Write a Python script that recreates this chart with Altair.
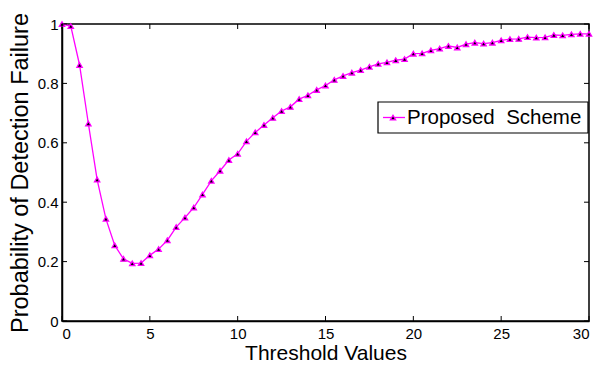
import altair as alt
import pandas as pd

x_vals = [0, 0.5, 1, 1.5, 2, 2.5, 3, 3.5, 4, 4.5, 5, 5.5, 6, 6.5, 7, 7.5, 8, 8.5, 9, 9.5,
          10, 10.5, 11, 11.5, 12, 12.5, 13, 13.5, 14, 14.5, 15, 15.5, 16, 16.5, 17, 17.5,
          18, 18.5, 19, 19.5, 20, 20.5, 21, 21.5, 22, 22.5, 23, 23.5, 24, 24.5, 25, 25.5,
          26, 26.5, 27, 27.5, 28, 28.5, 29, 29.5, 30]
y_vals = [1.0, 0.993, 0.862, 0.665, 0.476, 0.344, 0.255, 0.209, 0.194, 0.195, 0.221, 0.242,
          0.272, 0.316, 0.348, 0.382, 0.426, 0.472, 0.506, 0.542, 0.563, 0.605, 0.635, 0.660,
          0.684, 0.707, 0.721, 0.747, 0.760, 0.778, 0.793, 0.812, 0.825, 0.836, 0.845, 0.856,
          0.866, 0.871, 0.878, 0.882, 0.900, 0.901, 0.911, 0.917, 0.926, 0.921, 0.932, 0.937,
          0.934, 0.937, 0.945, 0.949, 0.950, 0.956, 0.954, 0.955, 0.963, 0.962, 0.965, 0.967,
          0.967]
x_ticks = [0, 5, 10, 15, 20, 25, 30]
y_ticks = [0, 0.2, 0.4, 0.6, 0.8, 1]
legend_label = ["Proposed\u00a0\u00a0Scheme"]

FONT = "Liberation Sans, Arial"
MAG = "#ff00ff"
W, H = 527, 297

df = pd.DataFrame({"x": x_vals, "y": y_vals})
xt = pd.DataFrame({"t": x_ticks})
yt = pd.DataFrame({"t": y_ticks})
lg = pd.DataFrame({"label": legend_label})

xs = alt.Scale(domain=[0, 30], nice=False)
ys = alt.Scale(domain=[0, 1], nice=False)

line = alt.Chart(df).mark_line(color=MAG, strokeWidth=1.3).encode(
    x=alt.X("x:Q", scale=xs, title="Threshold Values",
            axis=alt.Axis(values=x_ticks, format="~g", ticks=False, grid=False,
                          labelPadding=5, titlePadding=1, titleFontSize=21)),
    y=alt.Y("y:Q", scale=ys, title="Probability of Detection Failure",
            axis=alt.Axis(values=y_ticks, format="~g", ticks=False, grid=False,
                          labelPadding=4, titlePadding=5, titleFontSize=23.5)),
)
pts = alt.Chart(df).mark_point(shape="triangle-up", filled=True, fill="black",
                               stroke=MAG, strokeWidth=1.3, size=28, opacity=1).encode(
    x=alt.X("x:Q", scale=xs), y=alt.Y("y:Q", scale=ys))

tick_bot = alt.Chart(xt).mark_rule(color="black").encode(
    x=alt.X("t:Q", scale=xs), y=alt.value(H), y2=alt.value(H - 5))
tick_top = alt.Chart(xt).mark_rule(color="black").encode(
    x=alt.X("t:Q", scale=xs), y=alt.value(0), y2=alt.value(5))
tick_l = alt.Chart(yt).mark_rule(color="black").encode(
    y=alt.Y("t:Q", scale=ys), x=alt.value(0), x2=alt.value(5))
tick_r = alt.Chart(yt).mark_rule(color="black").encode(
    y=alt.Y("t:Q", scale=ys), x=alt.value(W), x2=alt.value(W - 5))

leg_box = alt.Chart(lg).mark_rect(fill="white", stroke="black", strokeWidth=1.2).encode(
    x=alt.value(316), x2=alt.value(526), y=alt.value(78), y2=alt.value(109))
leg_line = alt.Chart(lg).mark_rule(color=MAG, strokeWidth=1.3).encode(
    x=alt.value(321), x2=alt.value(343), y=alt.value(93.5))
leg_pt = alt.Chart(lg).mark_point(shape="triangle-up", filled=True, fill="black",
                                  stroke=MAG, strokeWidth=1.3, size=28, opacity=1).encode(
    x=alt.value(331), y=alt.value(93.5))
leg_txt = alt.Chart(lg).mark_text(align="left", baseline="middle", font=FONT,
                                  fontSize=20.5, color="black").encode(
    x=alt.value(345), y=alt.value(94), text="label:N")

chart = alt.layer(line, pts, tick_bot, tick_top, tick_l, tick_r,
                  leg_box, leg_line, leg_pt, leg_txt).properties(
    width=W, height=H,
    autosize=alt.AutoSizeParams(type="none"),
    padding={"left": 62, "top": 24, "right": 6, "bottom": 44},
    background="white",
).configure_view(stroke="black", strokeWidth=1.5).configure_axis(
    domainColor="black", domainWidth=1.5, labelFont=FONT, titleFont=FONT,
    labelFontSize=15, labelColor="black", titleColor="black",
    titleFontWeight="normal",
)

chart.save("out.html", embed_options={"renderer": "svg", "actions": False})
